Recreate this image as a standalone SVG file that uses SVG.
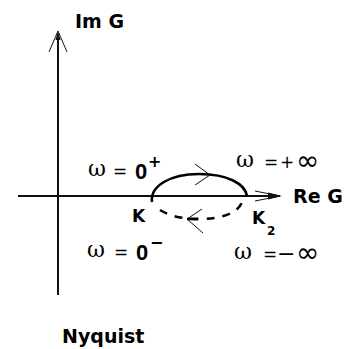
<svg xmlns="http://www.w3.org/2000/svg" width="347" height="349" viewBox="0 0 347 349">
<style>
.ax{stroke:#111;stroke-width:2;fill:none}
.thin{stroke:#111;stroke-width:1;fill:none}
.arc{stroke:#000;stroke-width:2.6;fill:none}
.dash{stroke:#000;stroke-width:2.6;fill:none;stroke-dasharray:8 8}
.lbl{font-family:"DejaVu Sans",sans-serif;font-weight:bold;fill:#000}
.w{font-family:"DejaVu Serif",serif;font-size:22px;fill:#000}
.eq{font-family:"DejaVu Sans",sans-serif;font-size:17px;fill:#000}
.mn{font-family:"DejaVu Sans",sans-serif;font-size:22px;fill:#000}
.inf{font-family:"DejaVu Sans",sans-serif;font-size:28px;fill:#000}
.z{font-family:"Liberation Sans",sans-serif;font-weight:bold;font-size:22px;fill:#000}
</style>
<rect width="347" height="349" fill="#fff"/>
<g id="connectors">
  <path class="ax" d="M58,295 V36"/>
  <path class="thin" d="M49,52 L58,31 L67,52"/>
  <polygon points="55.5,40 58,31 60.5,40" fill="#111"/>
  <path class="ax" d="M18,196 H276"/>
  <path class="thin" d="M255,191 L280,196 L255,201"/>
  <polygon points="268,192.5 282,196 268,199.5" fill="#111"/>
  <path class="arc" d="M152,202 C150,186 170,174 199,174 C228,174 245,184 247,196"/>
  <path class="thin" d="M195,164 L210,175 L195,185"/>
  <path class="dash" d="M160,210 C170,216 182,219 199,219 C222,219 238,213 242,202"/>
  <path class="thin" d="M202,209 L187,219 L203,233"/>
  <path d="M187,219 H198" stroke="#000" stroke-width="2.6"/>
</g>
<g id="im-g"><text class="lbl" x="75" y="28" font-size="19">Im G</text></g>
<g id="re-g"><text class="lbl" x="293" y="203" font-size="19">Re G</text></g>
<g id="w0p">
  <text class="w" x="88" y="176">ω</text>
  <text class="eq" x="113" y="177">=</text>
  <text class="z" x="135" y="179">0</text>
  <text class="lbl" x="148" y="167" font-size="16">+</text>
</g>
<g id="winfp">
  <text class="w" x="236" y="167">ω</text>
  <text class="eq" x="264" y="168">=</text>
  <text class="eq" x="280" y="168">+</text>
  <text class="inf" x="296" y="170">∞</text>
</g>
<g id="w0m">
  <text class="w" x="87" y="257">ω</text>
  <text class="eq" x="114" y="258">=</text>
  <text class="z" x="136" y="260">0</text>
  <text class="lbl" x="150" y="248" font-size="16">−</text>
</g>
<g id="winfm">
  <text class="w" x="234" y="259">ω</text>
  <text class="eq" x="263" y="260">=</text>
  <text class="mn" x="277" y="261">−</text>
  <text class="inf" x="296" y="262">∞</text>
</g>
<g id="k"><text class="lbl" x="132" y="222" font-size="17">K</text></g>
<g id="k2"><text class="lbl" x="252" y="224" font-size="17">K</text><text class="lbl" x="267" y="235" font-size="12">2</text></g>
<g id="nyquist"><text class="lbl" x="62" y="343" font-size="19">Nyquist</text></g>
</svg>
